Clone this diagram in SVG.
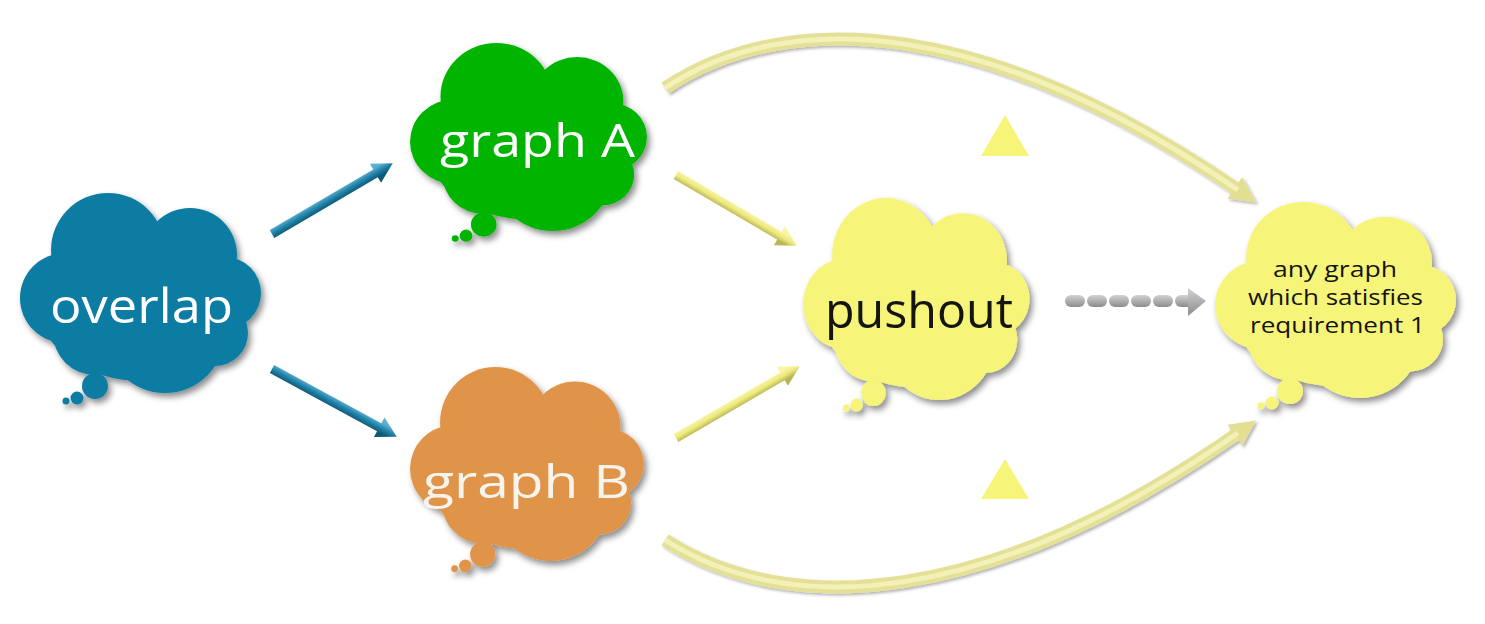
<svg xmlns="http://www.w3.org/2000/svg" width="1485" height="624" viewBox="0 0 1485 624">
<style>
.lbl{font-family:"Open Sans","Liberation Sans",sans-serif;}
.w{fill:#ffffff;}
.k{fill:#141410;}
.tri{fill:#F7F47A;}
</style>
<defs>
<filter id="sh" x="-10%" y="-10%" width="125%" height="130%">
<feDropShadow dx="3" dy="4" stdDeviation="3" flood-color="#000" flood-opacity="0.45"/>
</filter>
<filter id="sh2" x="-10%" y="-20%" width="125%" height="150%">
<feDropShadow dx="2" dy="2" stdDeviation="1.5" flood-color="#000" flood-opacity="0.3"/>
</filter>
<g id="cloud">
<circle cx="88" cy="57" r="57"/>
<circle cx="170" cy="62" r="47"/>
<circle cx="205" cy="100" r="36"/>
<circle cx="195" cy="140" r="33"/>
<circle cx="145" cy="140" r="60"/>
<circle cx="75" cy="140" r="42"/>
<circle cx="45" cy="105" r="45"/>
<ellipse cx="122" cy="108" rx="105" ry="80"/>
<circle cx="75" cy="193" r="13"/>
<circle cx="57" cy="205" r="6.5"/>
<circle cx="46" cy="208" r="3.5"/>
</g>
<linearGradient id="gBlue" gradientUnits="userSpaceOnUse" x1="0" y1="-5" x2="0" y2="5">
<stop offset="0" stop-color="#5BAFCF"/>
<stop offset="0.45" stop-color="#2384AA"/>
<stop offset="1" stop-color="#0C5875"/>
</linearGradient>
<linearGradient id="gYel" gradientUnits="userSpaceOnUse" x1="0" y1="-5" x2="0" y2="5">
<stop offset="0" stop-color="#F8F6A6"/>
<stop offset="0.5" stop-color="#ECE97F"/>
<stop offset="1" stop-color="#B9B552"/>
</linearGradient>
<linearGradient id="gGray" x1="0" y1="0" x2="0" y2="1">
<stop offset="0" stop-color="#D2D2D2"/>
<stop offset="0.5" stop-color="#AFAFAF"/>
<stop offset="1" stop-color="#8C8C8C"/>
</linearGradient>
<marker id="hy" viewBox="0 0 26 26" refX="4" refY="13" markerWidth="26" markerHeight="26" orient="auto" markerUnits="userSpaceOnUse">
<path d="M0,0 L26,13 L0,26 z" fill="#E2DF92"/>
</marker>
</defs>

<g id="connectors">
<g id="e-overlap-graphA" transform="translate(272,234) rotate(-30.4)">
<polygon points="0,-4.5 120,-4.5 120,-11 140,0 120,11 120,4.5 0,4.5" fill="url(#gBlue)"/>
</g>
<g id="e-overlap-graphB" transform="translate(272,369) rotate(28.5)">
<polygon points="0,-4.5 122,-4.5 122,-11 142,0 122,11 122,4.5 0,4.5" fill="url(#gBlue)"/>
</g>
<g id="e-graphA-pushout" transform="translate(676,175) rotate(30.4)">
<polygon points="0,-4.5 120,-4.5 120,-11 140,0 120,11 120,4.5 0,4.5" fill="url(#gYel)"/>
</g>
<g id="e-graphB-pushout" transform="translate(676,438) rotate(-30.1)">
<polygon points="0,-4.5 123,-4.5 123,-11 143,0 123,11 123,4.5 0,4.5" fill="url(#gYel)"/>
</g>
<g id="e-graphA-any" filter="url(#sh2)">
<path d="M665,88 C790,5 990,20 1238,190" fill="none" stroke="#E4E197" stroke-width="13" marker-end="url(#hy)"/>
<path d="M665,88 C790,5 990,20 1238,190" fill="none" stroke="#F3F1B8" stroke-width="5"/>
</g>
<g id="e-graphB-any" filter="url(#sh2)">
<path d="M665,540 C790,620 990,606 1238,433" fill="none" stroke="#E4E197" stroke-width="13" marker-end="url(#hy)"/>
<path d="M665,540 C790,620 990,606 1238,433" fill="none" stroke="#F3F1B8" stroke-width="5"/>
</g>
<g id="e-pushout-any" fill="url(#gGray)">
<rect x="1065" y="295" width="20" height="12" rx="6"/>
<rect x="1087" y="295" width="20" height="12" rx="6"/>
<rect x="1109" y="295" width="20" height="12" rx="6"/>
<rect x="1131" y="295" width="20" height="12" rx="6"/>
<rect x="1153" y="295" width="20" height="12" rx="6"/>
<rect x="1175" y="295" width="18" height="12" rx="6"/>
<polygon points="1188,288 1206,301 1188,316"/>
</g>
</g>

<g id="tri-top"><polygon class="tri" points="1005,115 1029,156 981,156"/></g>
<g id="tri-bottom"><polygon class="tri" points="1005,459 1029,499 981,499"/></g>

<g id="overlap">
<g filter="url(#sh)"><use href="#cloud" fill="#0B7BA3" transform="translate(20,193)"/></g>
<text class="lbl w" x="50" y="323" font-size="48" textLength="183" lengthAdjust="spacingAndGlyphs">overlap</text>
</g>
<g id="graphA">
<g filter="url(#sh)"><use href="#cloud" fill="#00B400" transform="translate(410,43) scale(0.983,0.94)"/></g>
<text class="lbl w" x="440" y="157" font-size="45" textLength="195" lengthAdjust="spacingAndGlyphs">graph A</text>
</g>
<g id="graphB">
<g filter="url(#sh)"><use href="#cloud" fill="#E09449" transform="translate(410,367) scale(0.97,0.97)"/></g>
<text class="lbl" fill="#F7F4EE" x="423" y="498" font-size="46" textLength="207" lengthAdjust="spacingAndGlyphs">graph B</text>
</g>
<g id="pushout">
<g filter="url(#sh)"><use href="#cloud" fill="#F7F47A" transform="translate(803,198) scale(0.94,1.01)"/></g>
<text class="lbl k" x="825" y="328" font-size="50" textLength="188" lengthAdjust="spacingAndGlyphs">pushout</text>
</g>
<g id="anygraph">
<g filter="url(#sh)"><use href="#cloud" fill="#F7F47A" transform="translate(1215,202) scale(1,0.98)"/></g>
<text class="lbl k" x="1273" y="277" font-size="21" textLength="124" lengthAdjust="spacingAndGlyphs">any graph</text>
<text class="lbl k" x="1248" y="305" font-size="21" textLength="175" lengthAdjust="spacingAndGlyphs">which satisfies</text>
<text class="lbl k" x="1250" y="333" font-size="21" textLength="175" lengthAdjust="spacingAndGlyphs">requirement 1</text>
</g>
</svg>
